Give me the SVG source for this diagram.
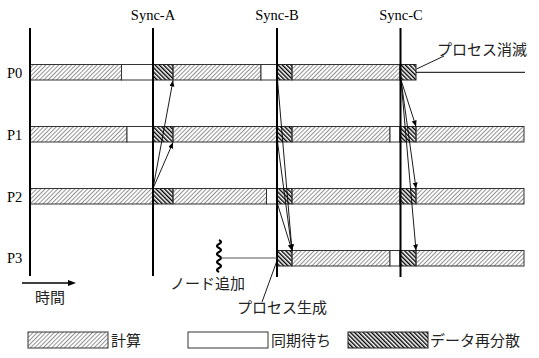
<svg xmlns="http://www.w3.org/2000/svg" width="539" height="358" viewBox="0 0 539 358">
<defs>
<pattern id="calc" patternUnits="userSpaceOnUse" width="3" height="10" patternTransform="rotate(45)">
<line x1="0.5" y1="0" x2="0.5" y2="10" stroke="#777" stroke-width="0.8"/>
</pattern>
<pattern id="redist" patternUnits="userSpaceOnUse" width="3" height="10" patternTransform="rotate(-45)">
<line x1="0.7" y1="0" x2="0.7" y2="10" stroke="#000" stroke-width="1.4"/>
</pattern>
<marker id="ah" markerUnits="userSpaceOnUse" markerWidth="7" markerHeight="6" refX="6" refY="2.5" orient="auto">
<path d="M0,0 L6,2.5 L0,5 z" fill="#000"/>
</marker>
</defs>
<style>
.calc{fill:url(#calc);stroke:#333;stroke-width:1}
.wait{fill:#fff;stroke:#333;stroke-width:1}
.red{fill:url(#redist);stroke:#222;stroke-width:1}
.axis{stroke:#000;stroke-width:2;fill:none}
.conn{stroke:#000;stroke-width:0.9;fill:none;marker-end:url(#ah)}
.lbl{font-family:"Liberation Serif",serif;font-size:14.5px;fill:#000}
.jp{font-family:"Liberation Serif","Noto Sans CJK JP",sans-serif;font-size:15px;fill:#222}
</style>
<rect width="539" height="358" fill="#fff"/>

<g id="sync-labels">
<text class="lbl" x="153" y="20" text-anchor="middle">Sync-A</text>
<text class="lbl" x="277" y="20" text-anchor="middle">Sync-B</text>
<text class="lbl" x="401" y="20" text-anchor="middle">Sync-C</text>
</g>

<g id="P0">
<text class="lbl" x="7" y="78">P0</text>
<rect class="calc" x="30" y="64.5" width="91.5" height="15.5"/>
<rect class="wait" x="121.5" y="64.5" width="31.5" height="15.5"/>
<rect class="red" x="153" y="64.5" width="20" height="15.5"/>
<rect class="calc" x="173" y="64.5" width="88" height="15.5"/>
<rect class="wait" x="261" y="64.5" width="16" height="15.5"/>
<rect class="red" x="277" y="64.5" width="15" height="15.5"/>
<rect class="calc" x="292" y="64.5" width="108" height="15.5"/>
<rect class="red" x="400" y="64.5" width="16" height="15.5"/>
<line x1="416" y1="72.3" x2="525" y2="72.3" stroke="#000" stroke-width="1"/>
</g>

<g id="P1">
<text class="lbl" x="7" y="140">P1</text>
<rect class="calc" x="30" y="126.5" width="97" height="15.5"/>
<rect class="wait" x="127" y="126.5" width="26" height="15.5"/>
<rect class="red" x="153" y="126.5" width="20" height="15.5"/>
<rect class="calc" x="173" y="126.5" width="104" height="15.5"/>
<rect class="red" x="277" y="126.5" width="15" height="15.5"/>
<rect class="calc" x="292" y="126.5" width="98" height="15.5"/>
<rect class="wait" x="390" y="126.5" width="10" height="15.5"/>
<rect class="red" x="400" y="126.5" width="16" height="15.5"/>
<rect class="calc" x="416" y="126.5" width="108" height="15.5"/>
</g>

<g id="P2">
<text class="lbl" x="7" y="202">P2</text>
<rect class="calc" x="30" y="188.5" width="123" height="15.5"/>
<rect class="red" x="153" y="188.5" width="20" height="15.5"/>
<rect class="calc" x="173" y="188.5" width="93.5" height="15.5"/>
<rect class="wait" x="266.5" y="188.5" width="10.5" height="15.5"/>
<rect class="red" x="277" y="188.5" width="15" height="15.5"/>
<rect class="calc" x="292" y="188.5" width="108" height="15.5"/>
<rect class="red" x="400" y="188.5" width="16" height="15.5"/>
<rect class="calc" x="416" y="188.5" width="108" height="15.5"/>
</g>

<g id="P3">
<text class="lbl" x="7" y="263">P3</text>
<rect class="red" x="277" y="250.5" width="15" height="15.5"/>
<rect class="calc" x="292" y="250.5" width="98" height="15.5"/>
<rect class="wait" x="390" y="250.5" width="10" height="15.5"/>
<rect class="red" x="400" y="250.5" width="16" height="15.5"/>
<rect class="calc" x="416" y="250.5" width="108" height="15.5"/>
</g>

<g id="axes">
<line class="axis" x1="30" y1="28" x2="30" y2="276"/>
<line class="axis" x1="153" y1="28" x2="153" y2="276"/>
<line class="axis" x1="277" y1="28" x2="277" y2="277"/>
<line class="axis" x1="400.5" y1="28" x2="400.5" y2="277"/>
</g>

<g id="node-add">
<path d="M219,240 q4,2 0,4 q-4,2 0,4 q4,2 0,4 q-4,2 0,4 q4,2 0,4 q-4,2 0,4 q4,2 0,4 q-4,2 0,4" fill="none" stroke="#000" stroke-width="2.3"/>
<line x1="221" y1="258" x2="277" y2="258" stroke="#555" stroke-width="1"/>
<text class="jp" x="170" y="289">ノード追加</text>
</g>

<g id="proc-create">
<line x1="262" y1="302" x2="276.5" y2="262" stroke="#000" stroke-width="0.9"/>
<text class="jp" x="237" y="313">プロセス生成</text>
</g>

<g id="proc-kill">
<line x1="416.5" y1="69" x2="444" y2="56" stroke="#000" stroke-width="0.9"/>
<text class="jp" x="437" y="55">プロセス消滅</text>
</g>

<g id="time">
<line x1="22" y1="283" x2="70" y2="283" stroke="#000" stroke-width="1.5"/>
<path d="M76,283 L68,280 L68,286 z" fill="#000"/>
<text class="jp" x="35" y="303">時間</text>
</g>

<g id="connectors">
<line class="conn" x1="153" y1="188.5" x2="173" y2="80.5"/>
<line class="conn" x1="153" y1="188.5" x2="173" y2="142.5"/>
<line class="conn" x1="277.5" y1="80" x2="292" y2="250.5"/>
<line class="conn" x1="277.5" y1="142" x2="292" y2="250.5"/>
<line class="conn" x1="277.5" y1="204" x2="292" y2="250.5"/>
<line class="conn" x1="401" y1="80" x2="416" y2="126.5"/>
<line class="conn" x1="401" y1="80" x2="416" y2="188.5"/>
<line class="conn" x1="401" y1="80" x2="416" y2="250.5"/>
</g>

<g id="legend">
<rect class="calc" x="28" y="332" width="80" height="16"/>
<text class="jp" x="111" y="346">計算</text>
<rect class="wait" x="188" y="332" width="80" height="16"/>
<text class="jp" x="271" y="346">同期待ち</text>
<rect class="red" x="348" y="332" width="80" height="16"/>
<text class="jp" x="430" y="346">データ再分散</text>
</g>
</svg>
